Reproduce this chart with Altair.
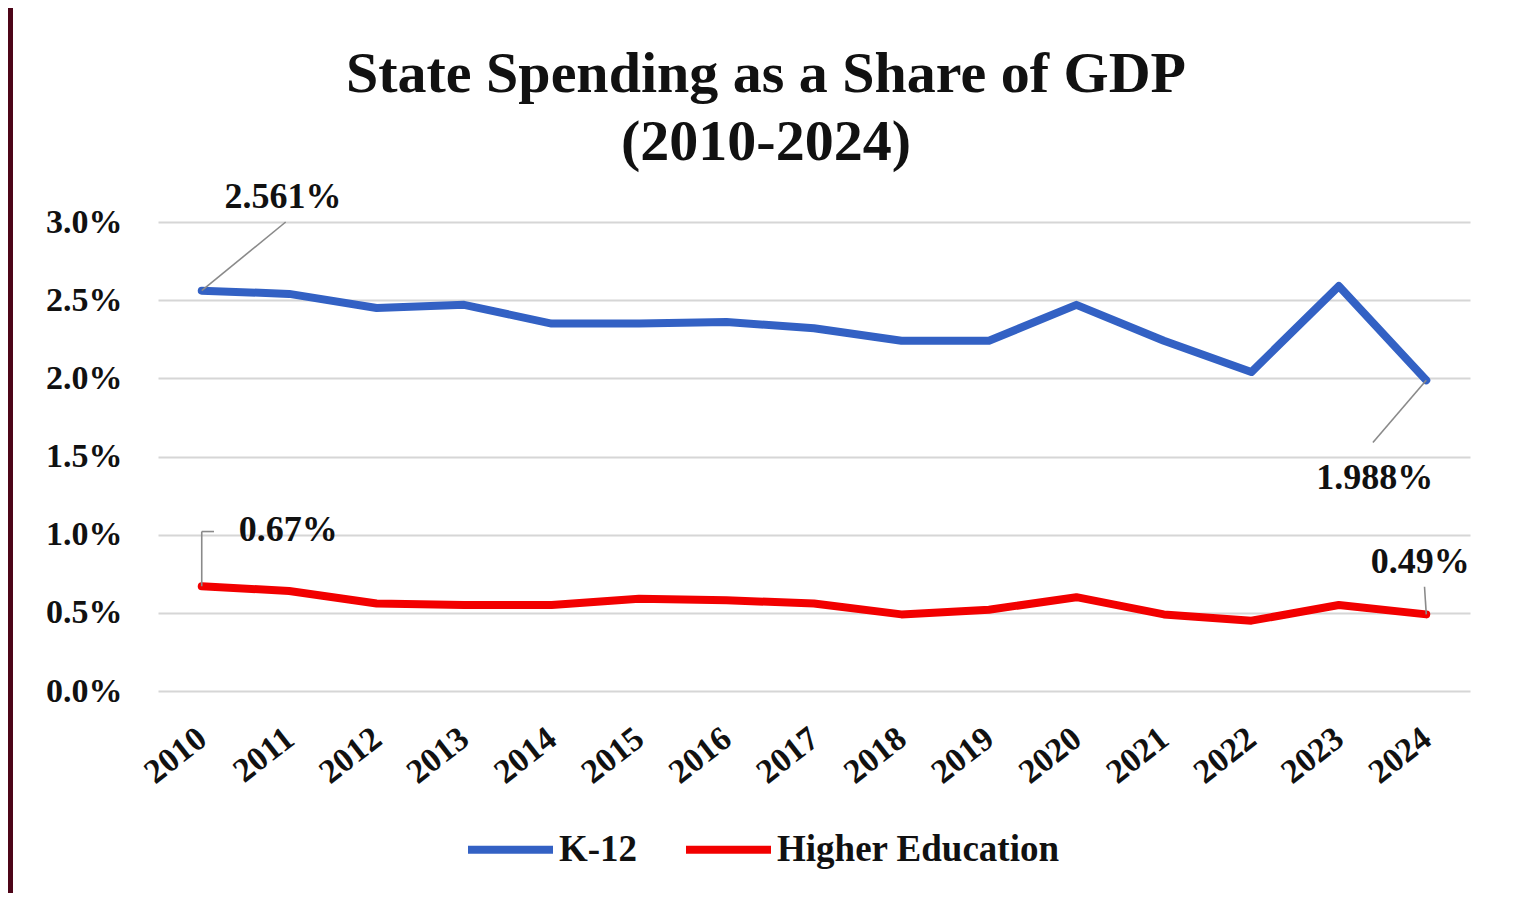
import altair as alt
import pandas as pd

years = list(range(2010, 2025))
k12 = [2.561, 2.54, 2.45, 2.47, 2.35, 2.35, 2.36, 2.32, 2.24, 2.24, 2.47, 2.24, 2.04, 2.59, 1.988]
higher_ed = [0.67, 0.64, 0.56, 0.55, 0.55, 0.59, 0.58, 0.56, 0.49, 0.52, 0.60, 0.49, 0.45, 0.55, 0.49]
series_names = ["K-12", "Higher Education"]
series_colors = ["#3361c4", "#f20000"]
title_lines = ["State Spending as a Share of GDP", "(2010-2024)"]

# annotation labels (text, x in years, y in %)
ann_text = ["2.561%", "1.988%", "0.67%", "0.49%"]
ann_x = [2010.93, 2023.41, 2010.99, 2023.93]
ann_y = [3.16, 1.365, 1.032, 0.827]

# leader line segments
seg_x1 = [2010.0, 2024.0, 2010.0, 2010.0, 2024.0]
seg_y1 = [2.561, 1.988, 0.67, 1.02, 0.49]
seg_x2 = [2010.96, 2023.39, 2010.0, 2010.14, 2023.98]
seg_y2 = [3.0, 1.59, 1.02, 1.02, 0.667]

W, H = 1312, 469
PAD = {"left": 150, "top": 214, "right": 41, "bottom": 202}
FONT = "Liberation Serif"

rows = []
for name, vals in zip(series_names, [k12, higher_ed]):
    for y, v in zip(years, vals):
        rows.append({"Year": y, "Value": v, "Series": name})
df = pd.DataFrame(rows)

ann_df = pd.DataFrame({"text": ann_text, "x": ann_x, "y": ann_y})
seg_df = pd.DataFrame({"x1": seg_x1, "y1": seg_y1, "x2": seg_x2, "y2": seg_y2})

xscale = alt.Scale(domain=[2009.5, 2024.5], nice=False, zero=False)
yscale = alt.Scale(domain=[0, 3.0], nice=False)

lines = alt.Chart(df).mark_line(strokeWidth=8, strokeCap="round", strokeJoin="round").encode(
    x=alt.X("Year:Q", scale=xscale, title=None,
            axis=alt.Axis(values=years, format="d", labelAngle=322, labelAlign="right",
                          labelBaseline="top", labelFontSize=34, labelFont=FONT,
                          labelFontWeight="bold", labelColor="#111111", labelPadding=30,
                          labelOffset=-10,
                          domain=False, ticks=False, grid=False, labelOverlap=False)),
    y=alt.Y("Value:Q", scale=yscale, title=None,
            axis=alt.Axis(values=[0, 0.5, 1.0, 1.5, 2.0, 2.5, 3.0],
                          labelExpr="format(datum.value, '.1f') + '%'",
                          labelFontSize=34, labelFont=FONT, labelFontWeight="bold",
                          labelColor="#111111", labelPadding=36, domain=False, ticks=False,
                          grid=True, gridColor="#d6d6d6", gridWidth=2)),
    color=alt.Color("Series:N", scale=alt.Scale(domain=series_names, range=series_colors),
                    sort=series_names,
                    legend=alt.Legend(title=None, orient="none", direction="horizontal",
                                      legendX=306, legendY=581, symbolType="stroke",
                                      symbolSize=7225, symbolStrokeWidth=8,
                                      labelFontSize=37, labelFont=FONT, labelFontWeight="bold",
                                      labelColor="#111111", labelOffset=2, columnPadding=32,
                                      labelLimit=0, symbolOffset=0)),
)

leaders = alt.Chart(seg_df).mark_rule(color="#8a8a8a", strokeWidth=1.6).encode(
    x=alt.X("x1:Q", scale=xscale), y=alt.Y("y1:Q", scale=yscale),
    x2="x2:Q", y2="y2:Q",
)

labels = alt.Chart(ann_df).mark_text(font=FONT, fontSize=36, fontWeight="bold",
                                     color="#111111", align="center", baseline="middle").encode(
    x=alt.X("x:Q", scale=xscale), y=alt.Y("y:Q", scale=yscale), text="text:N",
)

title1 = alt.Chart(pd.DataFrame({"t": [title_lines[0]]})).mark_text(
    font=FONT, fontSize=58, fontWeight="bold", color="#111111", align="center",
    baseline="alphabetic").encode(x=alt.value(608), y=alt.value(-130), text="t:N")
title2 = alt.Chart(pd.DataFrame({"t": [title_lines[1]]})).mark_text(
    font=FONT, fontSize=58, fontWeight="bold", color="#111111", align="center",
    baseline="alphabetic").encode(x=alt.value(608), y=alt.value(-62), text="t:N")

border = alt.Chart(pd.DataFrame({"a": [0]})).mark_rect(color="#4d0518").encode(
    x=alt.value(-PAD["left"]), x2=alt.value(-PAD["left"] + 5),
    y=alt.value(-PAD["top"]), y2=alt.value(H + PAD["bottom"]),
)

chart = alt.layer(border, lines, leaders, labels, title1, title2).properties(
    width=W, height=H,
    autosize=alt.AutoSizeParams(type="none"),
    padding=PAD,
    background="white",
).configure_view(strokeWidth=0, stroke="transparent")

chart.save("out.html", embed_options={"renderer": "svg", "actions": False})
